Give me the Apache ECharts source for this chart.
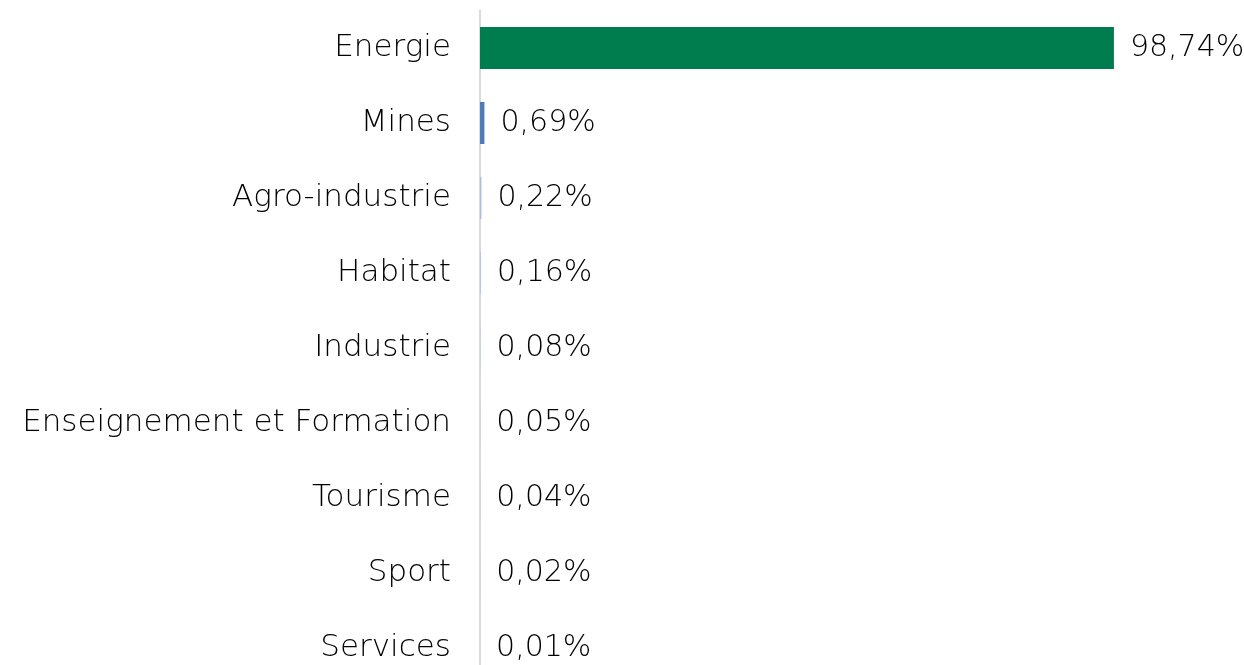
<!DOCTYPE html>
<html>
<head>
<meta charset="utf-8">
<script src="https://cdn.jsdelivr.net/npm/echarts@6/dist/echarts.min.js"></script>
<style>
  html, body { margin: 0; padding: 0; background: #fff; }
  #chart { width: 1244px; height: 665px; }
</style>
</head>
<body>
<div id="chart"></div>
<script>
const categories = ['Energie', 'Mines', 'Agro-industrie', 'Habitat', 'Industrie',
  'Enseignement et Formation', 'Tourisme', 'Sport', 'Services'];
const shares = [98.74, 0.69, 0.22, 0.16, 0.08, 0.05, 0.04, 0.02, 0.01];
const barColors = ['#007d4f', '#4f7cb8', '#a9bfe2', '#b4c7e7', '#c5d3ec',
  '#c5d3ec', '#c5d3ec', '#c5d3ec', '#c5d3ec'];

const chartDom = document.getElementById('chart');
const myChart = echarts.init(chartDom);

const FONT = '"DejaVu Sans", "Open Sans", sans-serif';

const option = {
  animation: false,
  grid: { left: 480, top: 10.5, width: 642, height: 675, containLabel: false, outerBoundsMode: 'none' },
  xAxis: {
    type: 'value',
    min: 0,
    max: 100,
    show: false
  },
  yAxis: {
    type: 'category',
    inverse: true,
    data: categories,
    axisLine: { show: true, lineStyle: { color: '#d9d9d9', width: 2 } },
    axisTick: { show: false },
    axisLabel: {
      margin: 29,
      padding: [4, 0, 0, 0],
      fontFamily: FONT,
      fontWeight: 200,
      fontSize: 31,
      color: '#000'
    }
  },
  series: [
    {
      type: 'bar',
      barWidth: 42,
      data: shares.map((v, i) => ({ value: v, itemStyle: { color: barColors[i] } })),
      label: {
        show: true,
        position: 'right',
        distance: 16,
        padding: [4, 0, 0, 0],
        fontFamily: FONT,
        fontWeight: 200,
        fontSize: 30,
        color: '#000',
        formatter: p => p.value.toFixed(2).replace('.', ',') + '%'
      }
    }
  ]
};

option && myChart.setOption(option);
</script>
</body>
</html>
